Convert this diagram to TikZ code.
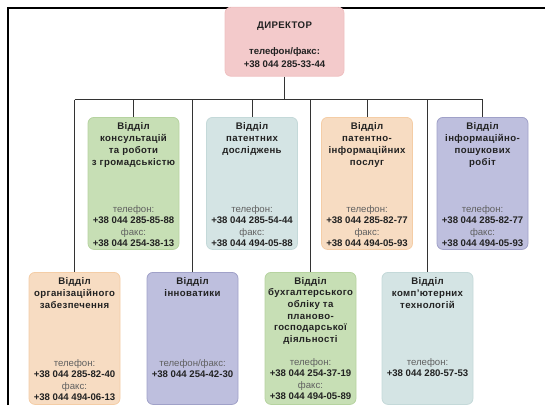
\documentclass[tikz,border=0pt]{standalone}
\usepackage{fontspec}
\setmainfont{Liberation Sans}
\newfontfamily\ttlfont{Liberation Sans}[LetterSpace=4]
\definecolor{pinkf}{HTML}{F3CACB}\definecolor{pinkd}{HTML}{EFC0C1}
\definecolor{grnf}{HTML}{C7DFB5}\definecolor{grnd}{HTML}{B6D3A0}
\definecolor{tealf}{HTML}{D4E4E4}\definecolor{teald}{HTML}{C4D9D9}
\definecolor{orgf}{HTML}{F7DCC2}\definecolor{orgd}{HTML}{F4CDA6}
\definecolor{purf}{HTML}{BEBFDE}\definecolor{purd}{HTML}{A0A1C8}
\definecolor{txt}{HTML}{222222}\definecolor{lbl}{HTML}{606060}
\definecolor{conn}{HTML}{333333}
\newcommand{\lb}[1]{\textcolor{lbl}{\mdseries #1}}
\begin{document}
\begin{tikzpicture}[x=1pt,y=-1pt,
  box/.style={draw, line width=0.8pt, rounded corners=6pt, minimum width=91pt, minimum height=132pt, inner sep=0pt, anchor=north},
  ttl/.style={anchor=north, align=center, inner sep=0pt, font=\fontsize{9.6}{12}\selectfont\ttlfont\bfseries, text=txt},
  ph/.style={anchor=north, align=center, inner sep=0pt, font=\fontsize{9.6}{11.5}\selectfont\bfseries, text=txt},
  cn/.style={draw=conn, line width=1pt}]
\useasboundingbox (0,0) rectangle (545,405);
\coordinate (fB) at (7.7,405);
\coordinate (fC) at (7.7,7.7);
\coordinate (fR) at (545,7.7);
\draw[line width=1.6pt] (fB) -- (fC) -- (fR);
\coordinate (busy) at (0,99.5);
% director
\node[draw=pinkd, fill=pinkf, line width=0.8pt, rounded corners=6pt, minimum width=119pt, minimum height=69pt, anchor=north, inner sep=0pt] (dir) at (284.5,6.8) {};
\node[ttl] (dirT) at (284.5,21.5) {ДИРЕКТОР};
\node[ph] (dirP) at (284.5,47) {телефон/факс:\\[1.5pt]+38 044 285-33-44};
% top row
\node[box, draw=grnd, fill=grnf] (g1) at (133.5,117) {};
\node[box, draw=teald, fill=tealf] (t1) at (252,117) {};
\node[box, draw=orgd, fill=orgf] (o1) at (367,117) {};
\node[box, draw=purd, fill=purf] (p1) at (482.5,117) {};
% bottom row
\node[box, draw=orgd, fill=orgf] (o2) at (74.5,272) {};
\node[box, draw=purd, fill=purf] (p2) at (192.5,272) {};
\node[box, draw=grnd, fill=grnf] (g2) at (310.5,272) {};
\node[box, draw=teald, fill=tealf] (t2) at (427.5,272) {};
% connectors
\draw[cn] (dir.south) -- (dir.south |- busy);
\draw[cn] (o2.north |- busy) -- (p1.north |- busy);
\foreach \n in {g1,t1,o1,p1,o2,p2,g2,t2} {\draw[cn] (\n.north |- busy) -- (\n.north);}
% texts top
\node[ttl] (g1T) at (133.5,122) {Відділ\\консультацій\\та роботи\\з громадськістю};
\node[ph] (g1P) at (133.5,205) {\lb{телефон:}\\+38 044 285-85-88\\\lb{факс:}\\+38 044 254-38-13};
\node[ttl] (t1T) at (252,122) {Відділ\\патентних\\досліджень};
\node[ph] (t1P) at (252,205) {\lb{телефон:}\\+38 044 285-54-44\\\lb{факс:}\\+38 044 494-05-88};
\node[ttl] (o1T) at (367,122) {Відділ\\патентно-\\інформаційних\\послуг};
\node[ph] (o1P) at (367,205) {\lb{телефон:}\\+38 044 285-82-77\\\lb{факс:}\\+38 044 494-05-93};
\node[ttl] (p1T) at (482.5,122) {Відділ\\інформаційно-\\пошукових\\робіт};
\node[ph] (p1P) at (482.5,205) {\lb{телефон:}\\+38 044 285-82-77\\\lb{факс:}\\+38 044 494-05-93};
% texts bottom
\node[ttl] (o2T) at (74.5,277) {Відділ\\організаційного\\забезпечення};
\node[ph] (o2P) at (74.5,359) {\lb{телефон:}\\+38 044 285-82-40\\\lb{факс:}\\+38 044 494-06-13};
\node[ttl] (p2T) at (192.5,277) {Відділ\\інноватики};
\node[ph] (p2P) at (192.5,359) {\lb{телефон/факс:}\\+38 044 254-42-30};
\node[ttl, font=\fontsize{9.6}{11.7}\selectfont\ttlfont\bfseries] (g2T) at (310.5,277) {Відділ\\бухгалтерського\\обліку та\\планово-\\господарської\\діяльності};
\node[ph] (g2P) at (310.5,358) {\lb{телефон:}\\+38 044 254-37-19\\\lb{факс:}\\+38 044 494-05-89};
\node[ttl] (t2T) at (427.5,277) {Відділ\\комп’ютерних\\технологій};
\node[ph] (t2P) at (427.5,358) {\lb{телефон:}\\+38 044 280-57-53};
\end{tikzpicture}
\end{document}
